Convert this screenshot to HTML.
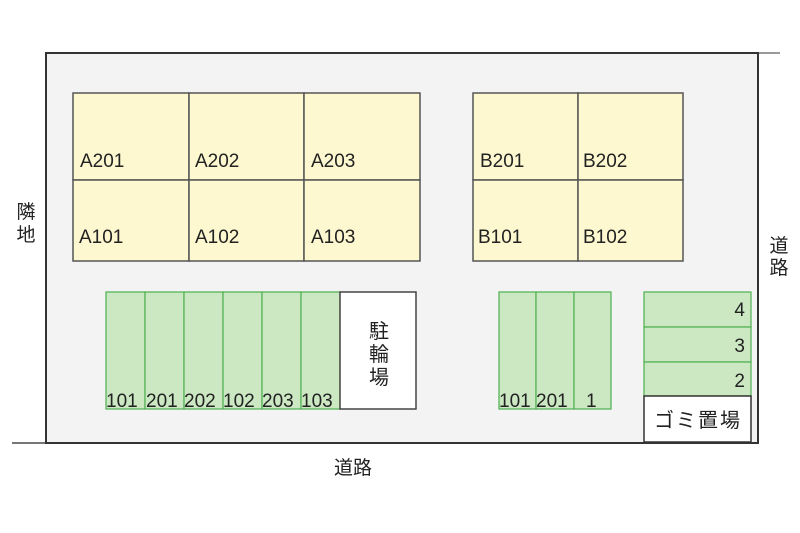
<!DOCTYPE html>
<html><head><meta charset="utf-8"><style>
html,body{margin:0;padding:0;background:#fff;}
svg{display:block;}
text{font-family:"Liberation Sans","Noto Sans CJK JP",sans-serif;fill:#222;}
</style></head><body>
<svg width="800" height="533" viewBox="0 0 800 533" xmlns="http://www.w3.org/2000/svg">
<line x1="12" y1="443" x2="46" y2="443" stroke="#777" stroke-width="2"/>
<line x1="758" y1="53" x2="780" y2="53" stroke="#999" stroke-width="2"/>
<rect x="46" y="53" width="712" height="390" fill="#f3f3f3" stroke="#333" stroke-width="2"/>
<g fill="#fdf8cf" stroke="#555" stroke-width="1.5">
<rect x="73" y="93" width="116" height="87"/><rect x="189" y="93" width="115" height="87"/><rect x="304" y="93" width="116" height="87"/>
<rect x="73" y="180" width="116" height="81"/><rect x="189" y="180" width="115" height="81"/><rect x="304" y="180" width="116" height="81"/>
<rect x="473" y="93" width="105" height="87"/><rect x="578" y="93" width="105" height="87"/>
<rect x="473" y="180" width="105" height="81"/><rect x="578" y="180" width="105" height="81"/>
</g>
<g font-size="19">
<text x="80" y="167">A201</text><text x="195" y="167">A202</text><text x="311" y="167">A203</text>
<text x="79" y="243">A101</text><text x="195" y="243">A102</text><text x="311" y="243">A103</text>
<text x="480" y="167">B201</text><text x="583" y="167">B202</text>
<text x="478" y="243">B101</text><text x="583" y="243">B102</text>
</g>
<g fill="#cce8c3" stroke="#4caf50" stroke-width="1.2">
<rect x="106" y="292" width="39" height="117"/><rect x="145" y="292" width="39" height="117"/><rect x="184" y="292" width="39" height="117"/>
<rect x="223" y="292" width="39" height="117"/><rect x="262" y="292" width="39" height="117"/><rect x="301" y="292" width="39" height="117"/>
<rect x="499" y="292" width="37" height="117"/><rect x="536" y="292" width="38" height="117"/><rect x="574" y="292" width="37" height="117"/>
<rect x="644" y="292" width="107" height="35"/><rect x="644" y="327" width="107" height="35"/><rect x="644" y="362" width="107" height="34"/>
</g>
<rect x="340" y="292" width="76" height="117" fill="#fff" stroke="#444" stroke-width="1.5"/>
<rect x="644" y="396" width="107" height="46" fill="#fff" stroke="#333" stroke-width="1.5"/>
<g font-size="19">
<text x="106" y="407">101</text><text x="146" y="407">201</text><text x="184" y="407">202</text>
<text x="223" y="407">102</text><text x="262" y="407">203</text><text x="301" y="407">103</text>
<text x="499" y="407">101</text><text x="536" y="407">201</text><text x="586" y="407">1</text>
<text x="745" y="316" text-anchor="end">4</text><text x="745" y="352" text-anchor="end">3</text><text x="745" y="387" text-anchor="end">2</text>
</g>
<g font-size="20">
<text x="379" y="338" text-anchor="middle">駐</text><text x="379" y="361" text-anchor="middle">輪</text><text x="379" y="384" text-anchor="middle">場</text>
<text x="698" y="427" text-anchor="middle" letter-spacing="2">ゴミ置場</text>
</g>
<g font-size="19">
<text x="26" y="218" text-anchor="middle">隣</text><text x="26" y="241" text-anchor="middle">地</text>
<text x="779" y="252" text-anchor="middle">道</text><text x="779" y="274" text-anchor="middle">路</text>
<text x="353" y="474" text-anchor="middle">道路</text>
</g>
</svg>
</body></html>
